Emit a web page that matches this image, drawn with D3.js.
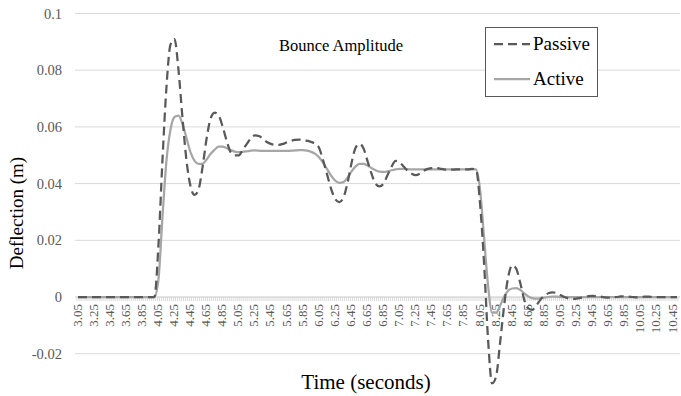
<!DOCTYPE html>
<html>
<head>
<meta charset="utf-8">
<script src="https://cdn.jsdelivr.net/npm/d3@7"></script>
<style>
  html, body { margin: 0; padding: 0; background: #fff; }
  svg { display: block; }
  text { font-family: "Liberation Serif", "Times New Roman", serif; }
</style>
</head>
<body>
<svg id="chart" width="681" height="396"></svg>
<script>
// Sample times (s), one every 0.05 s from 3.05 to 10.50
const timeStart = 3.05;
const timeStep = 0.05;

// Suspension deflection (m), passive system
const passive = [
  0, 0, 0, 0, 0, 0, 0, 0, 0, 0,
  0, 0, 0, 0, 0, 0, 0, 0, 0, 0,            // 3.05 – 4.00
  0.018, 0.048, 0.074, 0.089, 0.091, 0.080, 0.063, 0.048, 0.039, 0.036, // 4.05 – 4.50
  0.038, 0.046, 0.056, 0.063, 0.065, 0.064, 0.060, 0.055, 0.051, 0.050, // 4.55 – 5.00
  0.050, 0.052, 0.054, 0.056, 0.057, 0.0568, 0.0558, 0.0547, 0.054, 0.0537, // 5.05 – 5.50
  0.0537, 0.054, 0.0546, 0.0551, 0.0554, 0.0555, 0.0554, 0.0551, 0.0547, 0.054, // 5.55 – 6.00
  0.0525, 0.048, 0.043, 0.038, 0.0345, 0.0335, 0.035, 0.040, 0.047, 0.0525, // 6.05 – 6.50
  0.054, 0.0525, 0.048, 0.0435, 0.040, 0.039, 0.040, 0.043, 0.046, 0.048, // 6.55 – 7.00
  0.0475, 0.046, 0.0445, 0.0435, 0.043, 0.0435, 0.0445, 0.0452, 0.0455, 0.0455, // 7.05 – 7.50
  0.0453, 0.045, 0.0449, 0.0449, 0.045, 0.045, 0.045, 0.045, 0.0452, 0.045, // 7.55 – 8.00
  0.033, 0.012, -0.015, -0.0305, -0.028, -0.016, -0.003, 0.007, 0.0112, 0.010, // 8.05 – 8.50
  0.005, -0.001, -0.004, -0.0045, -0.003, -0.001, 0.0005, 0.0013, 0.0016, 0.0014, // 8.55 – 9.00
  0.0007, 0.0, -0.0005, -0.0007, -0.0006, -0.0003, 0.0, 0.0003, 0.0004, 0.0003, // 9.05 – 9.50
  0.0001, -0.0001, -0.0002, -0.0001, 0.0, 0.0002, 0.0002, 0.0001, 0.0, -0.0001, // 9.55 – 10.00
  0.0, 0.0001, 0.0001, 0.0, 0.0, 0.0, 0.0, 0.0, 0.0, 0.0                  // 10.05 – 10.50
];

// Suspension deflection (m), active system
const active = [
  0, 0, 0, 0, 0, 0, 0, 0, 0, 0,
  0, 0, 0, 0, 0, 0, 0, 0, 0, 0,            // 3.05 – 4.00
  0.006, 0.028, 0.048, 0.059, 0.0635, 0.064, 0.061, 0.056, 0.051, 0.048, // 4.05 – 4.50
  0.047, 0.047, 0.0485, 0.0505, 0.052, 0.053, 0.053, 0.0525, 0.0518, 0.0513, // 4.55 – 5.00
  0.0511, 0.0512, 0.0514, 0.0516, 0.0517, 0.0516, 0.0515, 0.0515, 0.0515, 0.0515, // 5.05 – 5.50
  0.0515, 0.0515, 0.0515, 0.0516, 0.0517, 0.0518, 0.0518, 0.0516, 0.0512, 0.0505, // 5.55 – 6.00
  0.0492, 0.0473, 0.045, 0.0427, 0.041, 0.0403, 0.0405, 0.042, 0.0442, 0.046, // 6.05 – 6.50
  0.047, 0.047, 0.0464, 0.0455, 0.0447, 0.0442, 0.0441, 0.0443, 0.0447, 0.045, // 6.55 – 7.00
  0.0452, 0.0452, 0.0451, 0.045, 0.045, 0.045, 0.045, 0.045, 0.045, 0.045, // 7.05 – 7.50
  0.045, 0.045, 0.045, 0.045, 0.045, 0.045, 0.045, 0.045, 0.045, 0.045, // 7.55 – 8.00
  0.038, 0.021, 0.004, -0.0055, -0.0055, -0.003, 0.0002, 0.0022, 0.003, 0.0031, // 8.05 – 8.50
  0.0025, 0.0013, 0.0002, -0.0004, -0.0006, -0.0005, -0.0002, 0.0, 0.0001, 0.0001, // 8.55 – 9.00
  0, 0, 0, 0, 0, 0, 0, 0, 0, 0,            // 9.05 – 9.50
  0, 0, 0, 0, 0, 0, 0, 0, 0, 0,            // 9.55 – 10.00
  0, 0, 0, 0, 0, 0, 0, 0, 0, 0             // 10.05 – 10.50
];

// Category labels printed under the time axis
const timeLabels = [
  "3.05", "3.25", "3.45", "3.65", "3.85", "4.05", "4.25", "4.45", "4.65", "4.85",
  "5.05", "5.25", "5.45", "5.65", "5.85", "6.05", "6.25", "6.45", "6.65", "6.85",
  "7.05", "7.25", "7.45", "7.65", "7.85", "8.05", "8.25", "8.45", "8.65", "8.85",
  "9.05", "9.25", "9.45", "9.65", "9.85", "10.05", "10.25", "10.45"
];
const yTicks = [-0.02, 0, 0.02, 0.04, 0.06, 0.08, 0.1];
const yTickLabels = ["-0.02", "0", "0.02", "0.04", "0.06", "0.08", "0.1"];

const svg = d3.select("#chart");
const plotLeft = 75, plotRight = 680;

const x = d3.scaleLinear().domain([3.05, 10.45]).range([78, 673]);
const y = d3.scaleLinear().domain([-0.03, 0.1]).range([382.05, 13.5]);

// Horizontal gridlines
svg.append("g").selectAll("line").data(yTicks.filter(d => d !== 0)).join("line")
  .attr("x1", plotLeft).attr("x2", plotRight)
  .attr("y1", d => y(d)).attr("y2", d => y(d))
  .attr("stroke", "#d9d9d9").attr("stroke-width", 1);

// Y tick labels
svg.append("g").selectAll("text").data(yTicks).join("text")
  .attr("x", 62).attr("y", d => y(d) + 5)
  .attr("text-anchor", "end")
  .attr("font-size", 14.5).attr("fill", "#595959")
  .text((d, i) => yTickLabels[i]);

// Time axis at zero, with a tick between every 0.025 s category
const catStep = 0.025;
const tickTimes = d3.range(0, 300).map(k => 3.05 - catStep / 2 + k * catStep);
const axisG = svg.append("g");
axisG.append("line")
  .attr("x1", plotLeft).attr("x2", plotRight)
  .attr("y1", y(0)).attr("y2", y(0))
  .attr("stroke", "#c8c8c8").attr("stroke-width", 1);
axisG.selectAll("line.tick").data(tickTimes.filter(t => x(t) <= plotRight)).join("line")
  .attr("class", "tick")
  .attr("x1", d => x(d)).attr("x2", d => x(d))
  .attr("y1", y(0)).attr("y2", y(0) + 4)
  .attr("stroke", "#d0d0d0").attr("stroke-width", 0.8);

axisG.selectAll("text").data(timeLabels).join("text")
  .attr("transform", d => `translate(${x(+d) + 3.5},${y(0) + 7}) rotate(-90)`)
  .attr("text-anchor", "end")
  .attr("font-size", 13).attr("fill", "#595959")
  .text(d => d);

// Series lines
const points = arr => arr.map((v, i) => ({ t: timeStart + i * timeStep, v }));
const line = d3.line().x(d => x(d.t)).y(d => y(d.v)).curve(d3.curveMonotoneX);

svg.append("path").datum(points(active))
  .attr("d", line).attr("fill", "none")
  .attr("stroke", "#a6a6a6").attr("stroke-width", 2.25)
  .attr("stroke-linejoin", "round");

svg.append("path").datum(points(passive))
  .attr("d", line).attr("fill", "none")
  .attr("stroke", "#595959").attr("stroke-width", 2.25)
  .attr("stroke-dasharray", "9,5");

// Title
svg.append("text").attr("x", 341).attr("y", 51)
  .attr("text-anchor", "middle").attr("font-size", 16.5).attr("fill", "#000")
  .text("Bounce Amplitude");

// Legend
const lg = svg.append("g");
lg.append("rect").attr("x", 485.5).attr("y", 27.5).attr("width", 112).attr("height", 69)
  .attr("fill", "#fff").attr("stroke", "#595959").attr("stroke-width", 1);
lg.append("line").attr("x1", 494).attr("x2", 530).attr("y1", 44).attr("y2", 44)
  .attr("stroke", "#595959").attr("stroke-width", 2.25).attr("stroke-dasharray", "9,5");
lg.append("text").attr("x", 533).attr("y", 50).attr("font-size", 19).text("Passive");
lg.append("line").attr("x1", 494).attr("x2", 530).attr("y1", 79).attr("y2", 79)
  .attr("stroke", "#a6a6a6").attr("stroke-width", 2.25);
lg.append("text").attr("x", 533).attr("y", 85).attr("font-size", 19).text("Active");

// Axis titles
svg.append("text")
  .attr("transform", `translate(23,213) rotate(-90)`)
  .attr("text-anchor", "middle").attr("font-size", 19).attr("fill", "#000")
  .text("Deflection (m)");
svg.append("text").attr("x", 366).attr("y", 389)
  .attr("text-anchor", "middle").attr("font-size", 21).attr("fill", "#000")
  .text("Time (seconds)");
</script>
</body>
</html>
